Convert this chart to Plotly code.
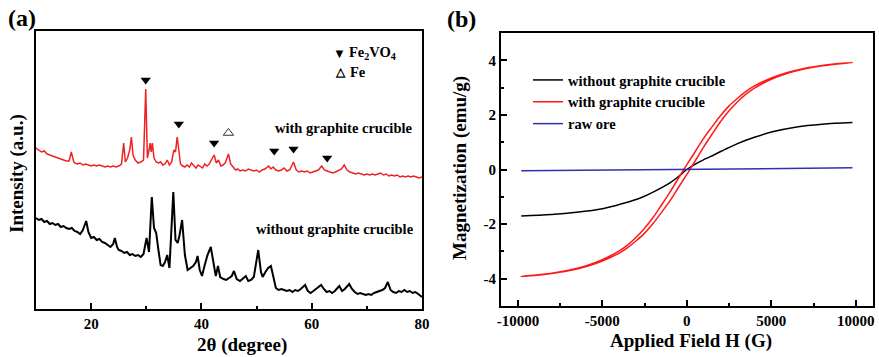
import plotly.graph_objects as go

# ---------------- Panel (a): XRD ----------------
two_theta_red = [10.0, 10.5, 11.0, 11.5, 12.0, 12.5, 13.0, 13.5, 14.0, 14.5, 15.0, 15.5, 16.0, 16.4, 16.8,
                 17.0, 17.5, 18.0, 18.5, 19.0, 19.5, 20.0, 20.5, 21.0, 21.5, 22.0, 22.5, 23.0, 23.5, 24.0,
                 24.5, 25.0, 25.5, 25.9, 26.2, 26.6, 27.0, 27.3, 27.6, 28.0, 28.5, 29.0, 29.5, 29.9, 30.2,
                 30.5, 30.7, 30.9, 31.1, 31.4, 31.8, 32.2, 32.6, 33.0, 33.4, 33.8, 34.2, 34.6, 35.0, 35.3,
                 35.6, 35.9, 36.2, 36.6, 37.0, 37.4, 37.8, 38.2, 38.6, 39.0, 39.4, 39.8, 40.2, 40.6, 41.0,
                 41.4, 41.8, 42.3, 42.7, 43.1, 43.5, 43.9, 44.3, 44.9, 45.3, 45.8, 46.2, 46.6, 47.0, 47.5,
                 48.0, 48.5, 49.0, 49.5, 50.0, 50.5, 51.0, 51.5, 52.2, 52.6, 53.0, 53.5, 54.0, 54.5, 55.0,
                 55.5, 56.0, 56.7, 57.2, 57.7, 58.2, 58.7, 59.2, 59.7, 60.2, 60.7, 61.2, 61.8, 62.3, 62.8,
                 63.3, 63.8, 64.3, 64.8, 65.4, 65.9, 66.4, 66.9, 67.4, 68.0, 68.5, 69.0, 69.5, 70.0, 70.5,
                 71.0, 71.5, 72.0, 72.5, 73.0, 73.5, 74.0, 74.5, 75.0, 75.5, 76.0, 76.5, 77.0, 77.5, 78.0,
                 78.5, 79.0, 79.5, 80.0]
intensity_red = [161, 159, 157, 158, 155, 154, 153, 152, 151, 150, 149, 148, 148, 157, 148,
                 146, 145, 146, 144, 145, 144, 143, 144, 143, 144, 143, 142, 143, 142, 143,
                 142, 143, 145, 166, 147, 151, 159, 172, 154, 149, 146, 147, 149, 220, 151,
                 159, 166, 157, 166, 151, 147, 146, 147, 144, 145, 149, 144, 147, 159, 157,
                 172, 159, 145, 143, 142, 144, 142, 146, 143, 141, 144, 142, 141, 145, 143,
                 145, 149, 154, 146, 149, 143, 144, 146, 155, 145, 141, 139, 140, 138, 139,
                 138, 140, 139, 138, 139, 137, 139, 140, 143, 140, 142, 139, 138, 139, 141,
                 138, 139, 147, 139, 137, 138, 137, 138, 136, 137, 138, 139, 143, 139, 138,
                 137, 136, 137, 138, 140, 144, 139, 137, 136, 135, 136, 135, 134, 135, 134,
                 135, 134, 135, 136, 134, 135, 133, 134, 133, 134, 132, 133, 132, 133, 132,
                 133, 132, 131, 132]

two_theta_black = [10.0, 10.5, 11.0, 11.5, 12.0, 12.5, 13.0, 13.5, 14.0, 14.5, 15.0, 15.5, 16.0, 16.5, 17.0,
                   17.5, 18.0, 18.5, 19.1, 19.5, 20.0, 20.5, 21.0, 21.5, 22.0, 22.5, 23.0, 23.5, 24.0, 24.3,
                   24.7, 25.0, 25.5, 26.0, 26.5, 27.0, 27.5, 28.0, 28.5, 29.0, 29.5, 30.05, 30.5, 31.0, 31.4,
                   31.8, 32.2, 32.6, 33.0, 33.4, 33.8, 34.2, 34.9, 35.3, 35.7, 36.0, 36.5, 37.0, 37.5, 38.0,
                   38.5, 39.0, 39.3, 39.7, 40.1, 40.6, 41.1, 41.7, 42.2, 42.6, 43.0, 43.4, 44.0, 44.5, 45.0,
                   45.5, 45.9, 46.4, 47.0, 47.5, 48.05, 48.5, 49.0, 49.5, 50.3, 50.8, 51.1, 51.6, 52.1, 52.6,
                   53.0, 53.5, 54.0, 54.5, 55.0, 55.5, 56.0, 56.5, 57.0, 57.5, 58.0, 58.8, 59.3, 59.8, 60.3,
                   60.8, 61.7, 62.2, 62.7, 63.2, 63.7, 64.2, 65.0, 65.5, 66.0, 66.8, 67.3, 67.8, 68.3, 68.8,
                   69.3, 69.8, 70.3, 70.8, 71.3, 71.8, 72.3, 72.8, 73.3, 73.8, 74.3, 74.8, 75.3, 75.8, 76.3,
                   76.8, 77.3, 77.8, 78.3, 78.8, 79.3, 80.0]
intensity_black = [91, 89, 90, 87, 88, 85, 86, 84, 85, 82, 83, 81, 80, 81, 78,
                   77, 75, 79, 88, 77, 71, 72, 69, 70, 67, 66, 64, 62, 65, 71,
                   62, 59, 58, 56, 57, 54, 55, 53, 54, 52, 55, 71, 57, 112, 81,
                   76, 59, 44, 43, 47, 54, 41, 117, 69, 66, 73, 89, 54, 39, 41,
                   43, 47, 53, 39, 33, 44, 54, 62, 47, 33, 43, 32, 30, 29, 31,
                   33, 38, 30, 28, 30, 33, 28, 29, 32, 59, 37, 32, 37, 41, 43,
                   33, 21, 19, 20, 19, 18, 19, 17, 19, 18, 20, 24, 18, 16, 18,
                   20, 24, 20, 17, 18, 16, 18, 23, 18, 20, 25, 20, 17, 15, 16,
                   15, 14, 15, 14, 16, 17, 18, 19, 21, 27, 19, 17, 16, 18, 17,
                   19, 17, 18, 16, 17, 15, 12]

fe2vo4_peaks_x = [29.9, 35.9, 42.3, 53.2, 56.7, 62.8]
fe2vo4_peaks_y = [229, 185, 166, 158, 160, 151]
fe_peaks_x = [44.9]
fe_peaks_y = [176]

xrd_ticks = [20, 40, 60, 80]

# ---------------- Panel (b): magnetization ----------------
h_black = [-9800, -8000, -6536, -5000, -4557, -4000, -3000, -2579, -2000, -1000, -500, 0,
           500, 1000, 1384, 2000, 2377, 3000, 4000, 5000, 6500, 8000, 9800]
m_black = [-1.70, -1.65, -1.57, -1.44, -1.37, -1.28, -1.10, -1.00, -0.83, -0.49, -0.26, 0.0,
           0.20, 0.36, 0.47, 0.66, 0.77, 0.95, 1.18, 1.37, 1.56, 1.66, 1.72]

h_red = [9800, 9000, 8000, 7000, 6000, 5000, 4000, 3500, 3000, 2500, 2000, 1500, 1000, 500, 0,
         -180, -500, -1000, -1500, -2000, -2500, -3000, -3500, -4000, -5000, -6000, -7000, -8000, -9800,
         -9000, -8000, -7000, -6000, -5000, -4000, -3500, -3000, -2500, -2000, -1500, -1000, -500, 0,
         180, 500, 1000, 1500, 2000, 2500, 3000, 3500, 4000, 5000, 6000, 7000, 8000, 9800]
m_red = [3.92, 3.88, 3.81, 3.71, 3.56, 3.35, 3.06, 2.86, 2.61, 2.33, 1.98, 1.57, 1.15, 0.66, 0.18,
         0.0, -0.32, -0.83, -1.30, -1.76, -2.15, -2.48, -2.76, -2.98, -3.30, -3.53, -3.69, -3.80, -3.92,
         -3.88, -3.81, -3.71, -3.56, -3.35, -3.06, -2.86, -2.61, -2.33, -1.98, -1.57, -1.15, -0.66, -0.18,
         0.0, 0.32, 0.83, 1.30, 1.76, 2.15, 2.48, 2.76, 2.98, 3.30, 3.53, 3.69, 3.80, 3.92]

h_blue = [-9800, 0, 9800]
m_blue = [-0.05, 0.0, 0.06]

field_tick_vals = [-10000, -5000, 0, 5000, 10000]
field_tick_text = ["-10000", "-5000", "0", "5000", "10000"]
mag_tick_vals = [-4, -2, 0, 2, 4]
mag_tick_text = ["-4", "-2", "0", "2", "4"]

SERIF = "Liberation Serif, Times New Roman, serif"
W, H = 879, 357

def px(xp):
    return xp / W

def py(yp):
    return (H - yp) / H

fig = go.Figure()

fig.add_trace(go.Scatter(x=two_theta_red, y=intensity_red, mode="lines",
                         line=dict(color="#ee2222", width=1.5), showlegend=False,
                         xaxis="x", yaxis="y"))
fig.add_trace(go.Scatter(x=two_theta_black, y=intensity_black, mode="lines",
                         line=dict(color="#000000", width=2), showlegend=False,
                         xaxis="x", yaxis="y"))
fig.add_trace(go.Scatter(x=fe2vo4_peaks_x, y=fe2vo4_peaks_y, mode="markers",
                         marker=dict(symbol="triangle-down", size=9, color="#000000"),
                         showlegend=False, xaxis="x", yaxis="y"))
fig.add_trace(go.Scatter(x=fe_peaks_x, y=fe_peaks_y, mode="markers",
                         marker=dict(symbol="triangle-up-open", size=9, color="#333333",
                                     line=dict(width=1)),
                         showlegend=False, xaxis="x", yaxis="y"))

fig.add_trace(go.Scatter(x=h_black, y=m_black, mode="lines", name="without graphite crucible",
                         line=dict(color="#000000", width=1.5, shape="spline"),
                         xaxis="x2", yaxis="y2"))
fig.add_trace(go.Scatter(x=h_red, y=m_red, mode="lines", name="with graphite crucible",
                         line=dict(color="#ff1a1a", width=1.5, shape="spline"),
                         xaxis="x2", yaxis="y2"))
fig.add_trace(go.Scatter(x=h_blue, y=m_blue, mode="lines", name="raw ore",
                         line=dict(color="#3030b0", width=1.5),
                         xaxis="x2", yaxis="y2"))

axis_common = dict(showline=True, linecolor="black", linewidth=2, mirror=True,
                   showgrid=False, zeroline=False, ticks="inside", ticklen=6,
                   tickwidth=1.5, tickcolor="black",
                   tickfont=dict(family=SERIF, size=15, color="black", weight="bold"))

fig.update_layout(
    width=W, height=H,
    margin=dict(l=0, r=0, t=0, b=0),
    paper_bgcolor="white", plot_bgcolor="white",
    xaxis=dict(domain=[px(36), px(422)], range=[10, 80], tickvals=xrd_ticks,
               minor=dict(dtick=10, tick0=0, ticks="inside", ticklen=3, tickwidth=1.5,
                          tickcolor="black"),
               anchor="y", automargin=False, **axis_common),
    yaxis=dict(domain=[py(309), py(31)], range=[0, 278], showline=True, linecolor="black",
               linewidth=2, mirror=True, showgrid=False, zeroline=False, ticks="",
               showticklabels=False, anchor="x", automargin=False),
    xaxis2=dict(domain=[px(501), px(872.7)], range=[-11000, 11000],
                tickvals=field_tick_vals, ticktext=field_tick_text,
                minor=dict(tickvals=[-7500, -2500, 2500, 7500], ticks="inside", ticklen=3,
                           tickwidth=1.5, tickcolor="black"),
                anchor="y2", automargin=False, **axis_common),
    yaxis2=dict(domain=[py(306), py(33)], range=[-5, 5],
                tickvals=mag_tick_vals, ticktext=mag_tick_text,
                minor=dict(tickvals=[-3, -1, 1, 3], ticks="inside", ticklen=3,
                           tickwidth=1.5, tickcolor="black"),
                anchor="x2", automargin=False, **axis_common),
    legend=dict(x=px(528), y=py(64), xanchor="left", yanchor="top",
                bgcolor="rgba(0,0,0,0)", itemwidth=30, tracegroupgap=0,
                font=dict(family=SERIF, size=14.5, color="black", weight="bold")),
    showlegend=True,
)

def note(text, x, y, size, angle=0, xanchor="center"):
    fig.add_annotation(text=text, x=px(x), y=py(y), xref="paper", yref="paper",
                       showarrow=False, textangle=angle, xanchor=xanchor, yanchor="middle",
                       font=dict(family=SERIF, size=size, color="black", weight="bold"))

note("(a)", 21.7, 18, 24)
note("(b)", 461.7, 19, 24)
note("2θ (degree)", 242.3, 345, 19)
note("Intensity (a.u.)", 17, 174, 19, angle=-90)
note("Applied Field H (G)", 691, 341, 19)
note("Magnetization (emu/g)", 460, 168, 19, angle=-90)

fig.add_annotation(text="with graphite crucible", x=65.7, y=181, xref="x", yref="y",
                   showarrow=False, font=dict(family=SERIF, size=14.5, color="black", weight="bold"))
fig.add_annotation(text="without graphite crucible", x=64.2, y=80, xref="x", yref="y",
                   showarrow=False, font=dict(family=SERIF, size=14.5, color="black", weight="bold"))
note("▼", 331, 53, 13, xanchor="left")
note("Fe<sub>2</sub>VO<sub>4</sub>", 347, 53, 14.5, xanchor="left")
note("△", 333, 72, 12, xanchor="left")
note("Fe", 348, 72, 14.5, xanchor="left")

fig.write_html("out.html")
